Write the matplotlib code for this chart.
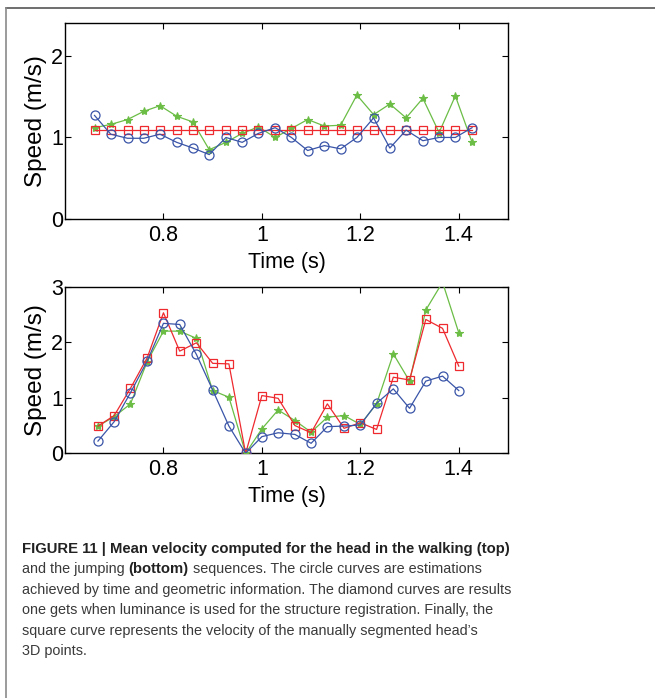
import matplotlib
matplotlib.use("Agg")
import matplotlib.pyplot as plt
from matplotlib.lines import Line2D

# Walking sequence (top panel)
walk_time = [0.660, 0.693, 0.727, 0.760, 0.793, 0.827, 0.860, 0.893, 0.927, 0.960,
             0.993, 1.027, 1.060, 1.093, 1.127, 1.160, 1.193, 1.227, 1.260, 1.293,
             1.327, 1.360, 1.393, 1.427]
walk_circle = [1.27, 1.04, 0.99, 0.99, 1.04, 0.94, 0.87, 0.79, 1.00, 0.94,
               1.05, 1.12, 1.00, 0.84, 0.90, 0.86, 1.00, 1.24, 0.87, 1.09,
               0.96, 1.00, 1.00, 1.12]
walk_star = [1.12, 1.16, 1.22, 1.32, 1.39, 1.26, 1.19, 0.85, 0.94, 1.05,
             1.13, 1.00, 1.11, 1.22, 1.14, 1.15, 1.52, 1.28, 1.41, 1.24,
             1.48, 1.06, 1.51, 0.94]
walk_square = [1.09] * 24

# Jumping sequence (bottom panel)
jump_time = [0.667, 0.700, 0.733, 0.767, 0.800, 0.833, 0.867, 0.900, 0.933, 0.967,
             1.000, 1.033, 1.067, 1.100, 1.133, 1.167, 1.200, 1.233, 1.267, 1.300,
             1.333, 1.367, 1.400]
jump_circle = [0.22, 0.57, 1.09, 1.66, 2.34, 2.32, 1.78, 1.14, 0.49, 0.00,
               0.30, 0.37, 0.34, 0.18, 0.48, 0.49, 0.51, 0.90, 1.16, 0.81,
               1.30, 1.39, 1.13]
jump_star = [0.49, 0.66, 0.89, 1.65, 2.20, 2.20, 2.07, 1.13, 1.01, 0.00,
             0.44, 0.78, 0.59, 0.38, 0.65, 0.68, 0.52, 0.89, 1.79, 1.30,
             2.58, 3.08, 2.17]
jump_square = [0.49, 0.68, 1.17, 1.72, 2.53, 1.84, 1.99, 1.62, 1.61, 0.00,
               1.04, 0.99, 0.50, 0.37, 0.89, 0.45, 0.55, 0.43, 1.37, 1.32,
               2.41, 2.25, 1.57]

x_ticks = [0.8, 1.0, 1.2, 1.4]
x_tick_labels = ["0.8", "1", "1.2", "1.4"]

caption_lines = [
    [("FIGURE 11 | Mean velocity computed for the head in the walking (top)", "bold")],
    [("and the jumping ", "normal"), ("(bottom)", "bold"),
     (" sequences. The circle curves are estimations", "normal")],
    [("achieved by time and geometric information. The diamond curves are results", "normal")],
    [("one gets when luminance is used for the structure registration. Finally, the", "normal")],
    [("square curve represents the velocity of the manually segmented head\u2019s", "normal")],
    [("3D points.", "normal")],
]

BLUE = "#3A55A8"
RED = "#EE2A2F"
GREEN = "#6BBD46"

plt.rcParams["font.family"] = ["Liberation Sans", "DejaVu Sans"]

fig = plt.figure(figsize=(6.55, 6.98), dpi=100)
W, H = 655, 698


def px_axes(left, top, right, bottom):
    return fig.add_axes([left / W, 1 - bottom / H, (right - left) / W, (bottom - top) / H])


def style(ax, ymax, yticks):
    ax.set_xlim(0.6, 1.5)
    ax.set_ylim(0, ymax)
    ax.set_xticks(x_ticks)
    ax.set_xticklabels(x_tick_labels)
    ax.set_yticks(yticks)
    ax.set_yticklabels([str(t) for t in yticks])
    ax.tick_params(direction="in", top=True, right=True, length=4, width=0.8,
                   labelsize=15.5)
    ax.tick_params(axis="x", pad=4)
    ax.tick_params(axis="y", pad=1.5)
    for s in ax.spines.values():
        s.set_linewidth(1.0)
    ax.set_xlabel("Time (s)", fontsize=15.5, labelpad=4.5)
    ax.set_ylabel("Speed (m/s)", fontsize=17.5, labelpad=3)


def draw(ax, t, circ, star, sq):
    ax.plot(t, star, color=GREEN, lw=0.9, marker="*", ms=6, mfc=GREEN, mec=GREEN,
            mew=0.8, zorder=3)
    ax.plot(t, sq, color=RED, lw=0.9, marker="s", ms=6, mfc="none", mec=RED,
            mew=0.9, zorder=4)
    ax.plot(t, circ, color=BLUE, lw=0.9, marker="o", ms=6.5, mfc="none", mec=BLUE,
            mew=0.9, zorder=5)


ax1 = px_axes(65, 23.3, 508, 219)
draw(ax1, walk_time, walk_circle, walk_star, walk_square)
style(ax1, 2.4, [0, 1, 2])

ax2 = px_axes(65, 286.7, 508, 453.3)
draw(ax2, jump_time, jump_circle, jump_star, jump_square)
style(ax2, 3, [0, 1, 2, 3])

# page frame lines
fig.add_artist(Line2D([6 / W, 1.0], [1 - 8 / H, 1 - 8 / H], transform=fig.transFigure,
                      color="#555555", lw=1.2))
fig.add_artist(Line2D([6 / W, 6 / W], [1 - 8 / H, 0.0], transform=fig.transFigure,
                      color="#8a8a8a", lw=1.2))

# caption, laid out piece by piece so bold runs sit inline
fig.canvas.draw()
renderer = fig.canvas.get_renderer()
cap_family = ["Liberation Sans", "DejaVu Sans"]
cap_sizes = {"bold": 10.7, "normal": 10.35}
baseline0 = 553
line_step = 20.4
for i, pieces in enumerate(caption_lines):
    x = 22.0
    y = 1 - (baseline0 + i * line_step) / H
    for text, weight in pieces:
        color = "#222222" if weight == "bold" else "#3a3a3a"
        t = fig.text(x / W, y, text, fontsize=cap_sizes[weight], fontweight=weight,
                     family=cap_family, color=color, ha="left", va="baseline")
        bb = t.get_window_extent(renderer=renderer)
        x += bb.width

fig.savefig("out.png", dpi=100)
